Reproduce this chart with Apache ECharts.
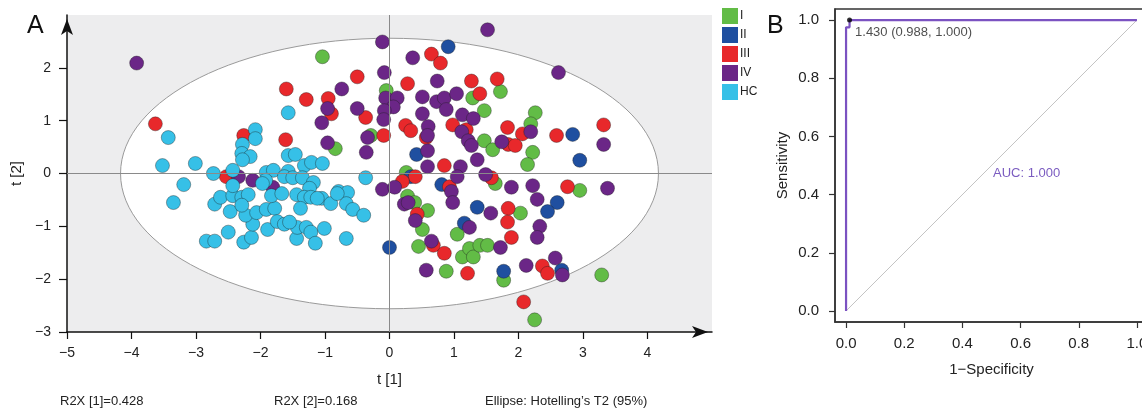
<!DOCTYPE html>
<html>
<head>
<meta charset="utf-8">
<script src="https://cdn.jsdelivr.net/npm/echarts@6/dist/echarts.min.js"></script>
<style>
  html, body { margin: 0; padding: 0; background: #fff; }
  #main { width: 1142px; height: 408px; }
</style>
</head>
<body>
<div id="main"></div>
<script>
  // ---- panel A: PCA scores, one array per group ----
  const groupNames = ['I', 'II', 'III', 'IV', 'HC']
  const groupColors = ['#62bc46', '#1f4fa0', '#e8282b', '#6b2687', '#36c0e7']

  const groupI = [[-1.04,2.21],[-0.05,1.57],[-0.29,0.72],[-0.84,0.47],[1.29,1.43],[1.47,1.19],[1.72,1.55],[2.26,1.15],
    [2.19,0.94],[1.47,0.62],[1.60,0.45],[2.22,0.40],[2.14,0.17],[0.26,0.02],[1.64,-0.19],[2.95,-0.32],[0.28,-0.43],
    [0.39,-0.55],[0.59,-0.70],[0.51,-1.06],[0.45,-1.38],[1.05,-1.15],[1.13,-1.58],[1.24,-1.42],[1.30,-1.58],
    [1.40,-1.36],[1.52,-1.36],[0.88,-1.85],[2.03,-0.75],[1.77,-2.02],[3.29,-1.92],[2.25,-2.77]]

  const groupII = [[0.91,2.40],[0.42,0.36],[2.84,0.74],[2.95,0.25],[0.81,-0.21],[0.33,-0.06],[1.36,-0.64],[1.16,-0.94],
    [2.60,-0.55],[2.45,-0.72],[0.00,-1.40],[1.77,-1.85],[2.67,-1.83]]

  const groupIII = [[0.65,2.26],[0.79,2.09],[-0.50,1.83],[0.28,1.70],[1.27,1.75],[1.67,1.79],[1.40,1.51],[-1.60,1.60],
    [-1.29,1.40],[-0.95,1.42],[-0.90,1.13],[-0.37,1.06],[0.25,0.91],[0.33,0.81],[0.57,0.68],[-0.09,0.72],[0.98,0.92],
    [1.19,0.83],[1.83,0.87],[2.06,0.75],[1.84,0.55],[1.95,0.53],[2.59,0.72],[3.32,0.92],[0.85,0.15],[0.40,-0.06],
    [0.20,-0.15],[0.93,-0.25],[1.58,-0.08],[2.76,-0.25],[0.43,-0.77],[0.68,-1.36],[0.85,-1.51],[1.21,-1.89],
    [1.84,-0.66],[1.83,-0.92],[1.89,-1.21],[2.37,-1.75],[2.45,-1.89],[2.08,-2.43],[-3.63,0.94],[-2.26,0.72],
    [-1.61,0.64],[-2.53,-0.06]]

  const groupIV = [[-3.92,2.09],[-0.11,2.49],[1.52,2.72],[2.62,1.91],[0.36,2.19],[-0.08,1.91],[0.74,1.75],[-0.74,1.60],
    [-0.96,1.23],[-0.50,1.23],[-1.05,0.96],[-0.96,0.58],[-0.34,0.68],[-0.36,0.40],[-0.06,1.43],[0.12,1.43],[0.06,1.26],
    [-0.08,1.19],[-0.09,1.02],[0.51,1.45],[0.73,1.36],[0.85,1.43],[1.04,1.51],[0.88,1.21],[0.51,1.13],[1.13,1.11],
    [1.30,1.04],[0.60,0.89],[0.59,0.72],[1.12,0.79],[1.22,0.62],[1.27,0.53],[1.74,0.60],[2.19,0.79],[3.32,0.55],
    [0.59,0.43],[1.36,0.26],[0.59,0.13],[1.10,0.13],[1.05,-0.06],[1.49,-0.02],[1.89,-0.26],[2.22,-0.23],[3.38,-0.28],
    [-0.11,-0.30],[0.08,-0.26],[0.96,-0.34],[0.98,-0.55],[0.23,-0.58],[0.29,-0.55],[0.40,-0.89],[0.65,-1.28],
    [0.57,-1.83],[1.24,-1.02],[1.57,-0.75],[2.29,-0.49],[2.33,-1.00],[2.29,-1.21],[1.72,-1.40],[2.12,-1.74],
    [2.57,-1.60],[2.68,-1.92],[-2.34,-0.06],[-2.12,-0.13],[-1.81,-0.26]]

  const groupHC = [[-3.43,0.68],[-3.52,0.15],[-3.01,0.19],[-2.73,0.00],[-2.43,0.06],[-1.57,1.15],[-2.08,0.83],[-2.08,0.66],
    [-2.28,0.55],[-2.29,0.38],[-2.16,0.32],[-2.28,0.26],[-1.57,0.34],[-1.46,0.36],[-1.91,0.02],[-1.80,0.06],[-1.57,0.04],
    [-1.32,0.15],[-1.21,0.21],[-1.04,0.19],[-0.37,-0.08],[-3.19,-0.21],[-3.35,-0.55],[-2.84,-1.28],[-2.71,-1.28],
    [-2.50,-1.11],[-2.26,-1.30],[-2.14,-1.21],[-2.12,-0.96],[-2.23,-0.79],[-2.06,-0.74],[-2.47,-0.72],[-2.71,-0.58],
    [-2.62,-0.45],[-2.43,-0.42],[-2.43,-0.23],[-2.29,-0.45],[-2.19,-0.40],[-2.29,-0.60],[-1.91,-0.68],[-1.78,-0.66],
    [-1.89,-1.06],[-1.74,-0.91],[-1.63,-0.96],[-1.83,-0.42],[-1.67,-0.38],[-1.92,-0.13],[-1.97,-0.19],[-1.63,-0.06],
    [-1.44,-0.40],[-1.44,-1.23],[-1.43,-1.02],[-1.50,-0.08],[-1.35,-0.08],[-1.18,-0.17],[-1.24,-0.28],[-1.32,-0.45],
    [-1.38,-0.66],[-1.22,-0.45],[-1.05,-0.47],[-0.91,-0.57],[-0.79,-0.34],[-0.65,-0.36],[-0.67,-0.57],[-0.57,-0.68],
    [-0.40,-0.79],[-1.29,-1.02],[-1.22,-1.11],[-1.15,-1.32],[-1.01,-1.04],[-0.67,-1.23],[-1.55,-0.92],[-0.81,-0.38],
    [-1.12,-0.47]]

  const groups = [groupI, groupII, groupIII, groupIV, groupHC]

  // Hotelling T2 ellipse: centre and semi-axes in score units
  const ellipseCenter = [0, 0]
  const ellipseRadii = [4.17, 2.56]

  const pcaTicksX = [-5, -4, -3, -2, -1, 0, 1, 2, 3, 4]
  const pcaTicksY = [-3, -2, -1, 0, 1, 2]

  // ---- panel B: ROC ----
  const rocFpr = [0, 0, 0.012, 0.012, 1]
  const rocTpr = [0, 0.975, 0.975, 1, 1]
  const rocTicks = [0, 0.2, 0.4, 0.6, 0.8, 1]
  const cutoffPoint = [0.012, 1.0]
  const cutoffLabel = '1.430 (0.988, 1.000)'
  const aucLabel = 'AUC: 1.000'

  const font = 'Liberation Sans, Arial, Helvetica, sans-serif'
  const minus = v => String(v).replace('-', '\u2212')

  const scatterSeries = groups.map((g, i) => ({
    name: groupNames[i],
    type: 'scatter',
    xAxisIndex: 0,
    yAxisIndex: 0,
    symbol: 'circle',
    symbolSize: 14,
    z: 3,
    data: g,
    itemStyle: {
      color: groupColors[i],
      borderColor: 'rgba(30,30,30,0.55)',
      borderWidth: 0.7,
      opacity: 1
    }
  }))

  const option = {
    animation: false,
    textStyle: { fontFamily: font },
    legend: {
      orient: 'vertical',
      left: 722,
      top: 8,
      padding: 0,
      itemWidth: 16,
      itemHeight: 16,
      itemGap: 3,
      icon: 'rect',
      itemStyle: { borderWidth: 0 },
      textStyle: { fontSize: 12, color: '#222', padding: [0, 0, 0, -3] },
      data: groupNames
    },
    grid: [
      { left: 67, top: 15, width: 645, height: 317, outerBoundsMode: 'none',
        show: true, backgroundColor: '#ededee', borderWidth: 0 },
      { left: 835, top: 9, width: 313, height: 313, outerBoundsMode: 'none',
        show: true, backgroundColor: '#fff', borderColor: '#333', borderWidth: 1.5 }
    ],
    xAxis: [
      {
        gridIndex: 0, type: 'value', min: -5, max: 5,
        name: 't [1]', nameLocation: 'middle', nameGap: 40,
        nameTextStyle: { fontSize: 15, color: '#222' },
        axisLine: { show: true, onZero: false, symbol: ['none', 'arrow'], symbolSize: [9, 16], symbolOffset: [0, -4],
          lineStyle: { color: '#111', width: 1.5 } },
        axisTick: { show: true, length: 7, customValues: pcaTicksX, lineStyle: { color: '#111', width: 1.2 } },
        axisLabel: { customValues: pcaTicksX, formatter: minus, fontSize: 14, color: '#222', margin: 14 },
        splitLine: { show: false }
      },
      {
        gridIndex: 1, type: 'value', min: -0.038, max: 1.038,
        name: '1\u2212Specificity', nameLocation: 'middle', nameGap: 40,
        nameTextStyle: { fontSize: 15, color: '#222' },
        axisLine: { show: true, onZero: false, lineStyle: { color: '#333', width: 1.5 } },
        axisTick: { show: true, length: 6, customValues: rocTicks, lineStyle: { color: '#333', width: 1.2 } },
        axisLabel: { customValues: rocTicks, formatter: v => v.toFixed(1), fontSize: 15, color: '#222', margin: 14 },
        splitLine: { show: false }
      }
    ],
    yAxis: [
      {
        gridIndex: 0, type: 'value', min: -3, max: 3,
        name: 't [2]', nameLocation: 'middle', nameGap: 43,
        nameTextStyle: { fontSize: 15, color: '#222' },
        axisLine: { show: true, onZero: false, symbol: ['none', 'arrow'], symbolSize: [9, 16], symbolOffset: [0, -4],
          lineStyle: { color: '#111', width: 1.5 } },
        axisTick: { show: true, length: 8, customValues: pcaTicksY, lineStyle: { color: '#111', width: 1.2 } },
        axisLabel: { customValues: pcaTicksY, formatter: minus, fontSize: 14, color: '#222', margin: 16 },
        splitLine: { show: false }
      },
      {
        gridIndex: 1, type: 'value', min: -0.038, max: 1.038,
        name: 'Sensitivity', nameLocation: 'middle', nameGap: 45,
        nameTextStyle: { fontSize: 15, color: '#222' },
        axisLine: { show: true, onZero: false, lineStyle: { color: '#333', width: 1.5 } },
        axisTick: { show: true, length: 6, customValues: rocTicks, lineStyle: { color: '#333', width: 1.2 } },
        axisLabel: { customValues: rocTicks, formatter: v => v.toFixed(1), fontSize: 15, color: '#222', margin: 16 },
        splitLine: { show: false }
      }
    ],
    graphic: [
      { type: 'text', left: 27, top: 14, style: { text: 'A', fontSize: 25, fontFamily: font, fill: '#111' } },
      { type: 'text', left: 767, top: 14, style: { text: 'B', fontSize: 25, fontFamily: font, fill: '#111' } },
      { type: 'text', left: 60, top: 395, style: { text: 'R2X [1]=0.428', fontSize: 13, fontFamily: font, fill: '#222' } },
      { type: 'text', left: 274, top: 395, style: { text: 'R2X [2]=0.168', fontSize: 13, fontFamily: font, fill: '#222' } },
      { type: 'text', left: 485, top: 395, style: { text: 'Ellipse: Hotelling\u2019s T2 (95%)', fontSize: 13, fontFamily: font, fill: '#222' } },
      { type: 'text', left: 993, top: 167, style: { text: aucLabel, fontSize: 13, fontFamily: font, fill: '#7b5cc0' } }
    ],
    series: [
      {
        // confidence ellipse drawn through the axis scales
        type: 'custom',
        xAxisIndex: 0,
        yAxisIndex: 0,
        z: 1,
        silent: true,
        data: [ellipseCenter.concat(ellipseRadii)],
        renderItem(params, api) {
          const c = api.coord([api.value(0), api.value(1)])
          const s = api.size([api.value(2), api.value(3)])
          return {
            type: 'ellipse',
            shape: { cx: c[0], cy: c[1], rx: s[0], ry: s[1] },
            style: { fill: '#fff', stroke: '#9a9a9a', lineWidth: 1 }
          }
        }
      },
      {
        type: 'line',
        xAxisIndex: 0,
        yAxisIndex: 0,
        z: 2,
        data: [],
        markLine: {
          silent: true,
          symbol: 'none',
          label: { show: false },
          lineStyle: { color: '#8a8a8a', width: 1, type: 'solid' },
          data: [{ xAxis: 0 }, { yAxis: 0 }]
        }
      },
      ...scatterSeries,
      {
        type: 'line',
        xAxisIndex: 1,
        yAxisIndex: 1,
        showSymbol: false,
        silent: true,
        data: [[0, 0], [1, 1]],
        lineStyle: { color: '#c4c4c4', width: 1 }
      },
      {
        type: 'line',
        xAxisIndex: 1,
        yAxisIndex: 1,
        showSymbol: false,
        silent: true,
        z: 4,
        data: rocFpr.map((f, i) => [f, rocTpr[i]]),
        lineStyle: { color: '#7b52c1', width: 2.2 }
      },
      {
        type: 'scatter',
        xAxisIndex: 1,
        yAxisIndex: 1,
        z: 5,
        symbolSize: 5,
        data: [cutoffPoint],
        itemStyle: { color: '#000' },
        label: {
          show: true,
          position: 'right',
          distance: 3,
          offset: [0, 12],
          formatter: cutoffLabel,
          fontSize: 13,
          color: '#222',
          fontFamily: font
        }
      }
    ]
  }

  const chart = echarts.init(document.getElementById('main'))
  chart.setOption(option)
</script>
</body>
</html>
